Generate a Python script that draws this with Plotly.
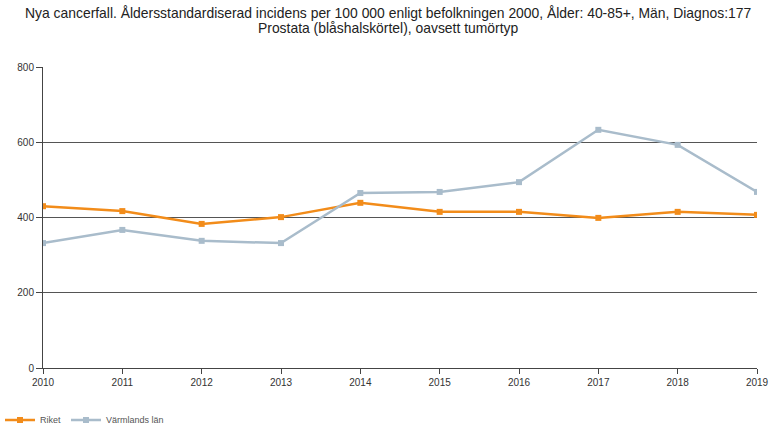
import plotly.graph_objects as go

years = [2010, 2011, 2012, 2013, 2014, 2015, 2016, 2017, 2018, 2019]
riket = [430, 417, 383, 401, 439, 415, 415, 399, 415, 407]
varmland = [332, 367, 338, 332, 465, 468, 494, 633, 593, 468]
y_ticks = [0, 200, 400, 600, 800]

title_lines = ["Nya cancerfall. Åldersstandardiserad incidens per 100 000 enligt befolkningen 2000, Ålder: 40-85+, Män, Diagnos:177",
               "Prostata (blåshalskörtel), oavsett tumörtyp"]

fig = go.Figure()
fig.add_trace(go.Scatter(x=years, y=riket, name="Riket", mode="lines+markers",
                         line=dict(color="#f28c1a", width=2.5),
                         marker=dict(symbol="square", size=6, color="#f28c1a")))
fig.add_trace(go.Scatter(x=years, y=varmland, name="Värmlands län", mode="lines+markers",
                         line=dict(color="#a9bccb", width=2.5),
                         marker=dict(symbol="square", size=6, color="#a9bccb")))

for i, line in enumerate(title_lines):
    fig.add_annotation(text=line, xref="paper", yref="paper", x=0.5 - 12 / 714, xanchor="center",
                       y=1 + (67 - 13 - 15 * i) / 301, yanchor="middle", showarrow=False,
                       font=dict(size=13.9, color="#222"))

fig.update_layout(
    width=769, height=425,
    margin=dict(l=43, r=12, t=67, b=57, autoexpand=False),
    paper_bgcolor="white", plot_bgcolor="white",
    font=dict(family="Liberation Sans, Arial, sans-serif", size=11, color="#333"),
    showlegend=True,
    legend=dict(orientation="h", xref="container", x=0, xanchor="left",
                yref="container", y=0.012, yanchor="middle", itemwidth=30,
                font=dict(size=9, color="#555"), tracegroupgap=0),
    xaxis=dict(range=[2010, 2019], tickvals=years, ticktext=[str(y) for y in years],
               showgrid=False, showline=True, linecolor="#444", linewidth=1,
               ticks="outside", ticklen=5, tickcolor="#444", zeroline=False, automargin=False,
               tickfont=dict(size=10, color="#333")),
    yaxis=dict(range=[0, 800], tickvals=y_ticks, showgrid=True, gridcolor="#555",
               gridwidth=1, showline=True, linecolor="#444", linewidth=1,
               ticks="outside", ticklen=6, tickcolor="#444", zeroline=False, automargin=False,
               tickfont=dict(size=10, color="#333")),
)

fig.write_html("out.html", config={"displayModeBar": False},
               post_script="document.body.style.margin='0';document.body.style.overflow='hidden';")
